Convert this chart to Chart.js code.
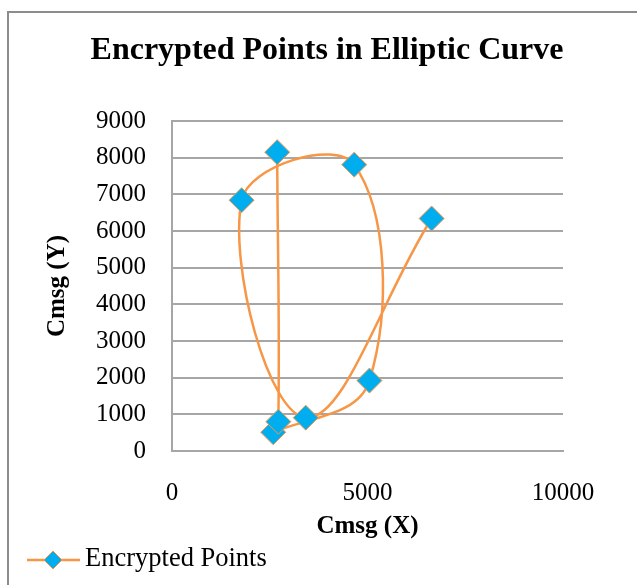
<!DOCTYPE html>
<html>
<head>
<meta charset="utf-8">
<script src="https://cdn.jsdelivr.net/npm/chart.js@4"></script>
<style>
  body { margin: 0; background: #fff; }
  #wrap { position: relative; width: 637px; height: 585px; overflow: hidden; }
  #frame { position: absolute; left: 7px; top: 11px; width: 700px; height: 700px; border: 2px solid #8c8c8c; box-sizing: border-box; }
  canvas { position: absolute; left: 0; top: 0; }
</style>
</head>
<body>
<div id="wrap">
  <div id="frame"></div>
  <canvas id="chart" width="637" height="585"></canvas>
</div>
<script>
// === Encrypted points on the elliptic curve, in plotting order ===

const seriesName = 'Encrypted Points';
const xValues = [6640, 3420, 1780, 4660, 5050, 2590, 2720, 2690];
const yValues = [6340, 910, 6840, 7810, 1920, 510, 800, 8150];
const xTicks = [0, 5000, 10000];
const yTicks = [0, 1000, 2000, 3000, 4000, 5000, 6000, 7000, 8000, 9000];

const lineColor = '#f79646';
const markerColor = '#00aeef';
const gridColor = '#a6a6a6';
const serif = '"Liberation Serif", "Times New Roman", serif';

const points = xValues.map((x, i) => ({ x: x, y: yValues[i] }));

// title and legend drawn by hand so they sit where the original has them
const decorations = {
  id: 'decorations',
  afterDraw(chart) {
    const ctx = chart.ctx;
    ctx.save();
    ctx.fillStyle = '#000';
    ctx.textAlign = 'center';
    ctx.textBaseline = 'middle';
    ctx.font = 'bold 32px ' + serif;
    ctx.fillText('Encrypted Points in Elliptic Curve', 327, 51);

    // legend: line with a diamond on it
    ctx.strokeStyle = lineColor;
    ctx.lineWidth = 2.5;
    ctx.beginPath();
    ctx.moveTo(27, 560);
    ctx.lineTo(80, 560);
    ctx.stroke();
    ctx.beginPath();
    ctx.moveTo(53, 551);
    ctx.lineTo(62, 560);
    ctx.lineTo(53, 569);
    ctx.lineTo(44, 560);
    ctx.closePath();
    ctx.fillStyle = markerColor;
    ctx.fill();
    ctx.lineWidth = 1;
    ctx.stroke();

    ctx.fillStyle = '#000';
    ctx.textAlign = 'left';
    ctx.font = '26.5px ' + serif;
    ctx.fillText(seriesName, 85, 559);
    ctx.restore();
  }
};

new Chart(document.getElementById('chart').getContext('2d'), {
  type: 'scatter',
  data: {
    datasets: [{
      label: seriesName,
      data: points,
      showLine: true,
      tension: 0.4,
      borderColor: lineColor,
      borderWidth: 2.5,
      pointStyle: 'rectRot',
      pointRadius: 12.5,
      pointHoverRadius: 12.5,
      pointBackgroundColor: markerColor,
      pointBorderColor: lineColor,
      pointBorderWidth: 1
    }]
  },
  options: {
    responsive: false,
    animation: false,
    devicePixelRatio: 1,
    layout: { padding: { top: 121, right: 74, bottom: 0, left: 0 } },
    plugins: {
      legend: { display: false },
      title: { display: false },
      tooltip: { enabled: false }
    },
    scales: {
      x: {
        type: 'linear',
        min: 0,
        max: 10000,
        afterFit: (scale) => { scale.height = 134; },
        afterBuildTicks: (scale) => { scale.ticks = xTicks.map(v => ({ value: v })); },
        grid: { display: false, drawTicks: false },
        border: { display: true, color: gridColor, width: 2 },
        ticks: {
          padding: 27,
          maxRotation: 0,
          color: '#000',
          font: { family: serif, size: 25 },
          callback: (v) => String(v)
        },
        title: {
          display: true,
          text: 'Cmsg (X)',
          color: '#000',
          padding: { top: 0, bottom: 43 },
          font: { family: serif, size: 25, weight: 'bold' }
        }
      },
      y: {
        type: 'linear',
        min: 0,
        max: 9000,
        afterFit: (scale) => { scale.width = 172; },
        afterBuildTicks: (scale) => { scale.ticks = yTicks.map(v => ({ value: v })); },
        grid: { color: gridColor, lineWidth: 2, drawTicks: false },
        border: { display: true, color: gridColor, width: 2 },
        ticks: {
          padding: 26,
          color: '#000',
          font: { family: serif, size: 25 },
          callback: (v) => String(v)
        },
        title: {
          display: true,
          text: 'Cmsg (Y)',
          color: '#000',
          padding: { top: 43, bottom: 0 },
          font: { family: serif, size: 25, weight: 'bold' }
        }
      }
    }
  },
  plugins: [decorations]
});
</script>
</body>
</html>
